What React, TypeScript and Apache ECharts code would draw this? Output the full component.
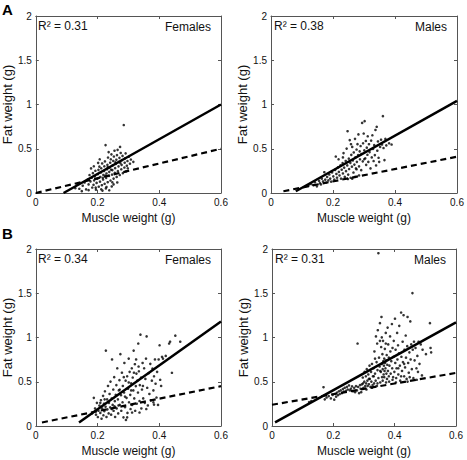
import React, { useEffect, useRef } from "react";
import * as echarts from "echarts";

// ---------- DATA ----------
const xTicks = [0, 0.2, 0.4, 0.6];
const yTicks = [0, 0.5, 1, 1.5, 2];
const panelLetters = ["A", "B"];
const panelTitles = ["Females", "Males", "Females", "Males"];
const r2Labels = ["R² = 0.31", "R² = 0.38", "R² = 0.34", "R² = 0.31"];
const xName = "Muscle weight (g)";
const yName = "Fat weight (g)";

// regression line end points [x, y]
const solidA_F = [[0.09, 0.0], [0.6, 1.0]];
const dashA_F = [[0.0, 0.0], [0.6, 0.5]];
const solidA_M = [[0.08, 0.02], [0.6, 1.04]];
const dashA_M = [[0.04, 0.02], [0.6, 0.41]];
const solidB_F = [[0.14, 0.04], [0.6, 1.18]];
const dashB_F = [[0.02, 0.04], [0.6, 0.45]];
const solidB_M = [[0.01, 0.04], [0.6, 1.17]];
const dashB_M = [[0.0, 0.24], [0.6, 0.6]];

const pointsA_F = [
  [0.128,0.055],[0.141,0.048],[0.152,0.082],[0.158,0.118],[0.163,0.041],[0.168,0.152],[0.171,0.097],[0.174,0.203],
  [0.177,0.131],[0.181,0.172],[0.183,0.062],[0.185,0.224],[0.187,0.093],[0.189,0.143],[0.191,0.188],[0.193,0.251],
  [0.195,0.038],[0.197,0.114],[0.199,0.161],[0.201,0.213],[0.203,0.262],[0.204,0.071],[0.206,0.298],[0.208,0.128],
  [0.209,0.181],[0.211,0.232],[0.212,0.279],[0.214,0.088],[0.215,0.334],[0.216,0.027],[0.218,0.152],[0.219,0.204],
  [0.221,0.248],[0.222,0.302],[0.223,0.104],[0.224,0.357],[0.226,0.541],[0.227,0.052],[0.228,0.171],[0.229,0.221],
  [0.231,0.268],[0.232,0.318],[0.233,0.122],[0.234,0.401],[0.236,0.462],[0.237,0.193],[0.238,0.239],[0.239,0.287],
  [0.241,0.342],[0.242,0.141],[0.243,0.381],[0.245,0.437],[0.246,0.074],[0.247,0.208],[0.248,0.259],[0.249,0.311],
  [0.251,0.362],[0.252,0.163],[0.253,0.412],[0.255,0.478],[0.256,0.228],[0.257,0.281],[0.259,0.329],[0.261,0.376],
  [0.262,0.182],[0.263,0.428],[0.264,0.119],[0.266,0.247],[0.268,0.301],[0.269,0.352],[0.271,0.397],[0.272,0.203],
  [0.273,0.521],[0.275,0.452],[0.277,0.268],[0.278,0.318],[0.279,0.371],[0.281,0.419],[0.282,0.224],[0.285,0.768],
  [0.287,0.288],[0.288,0.342],[0.289,0.391],[0.291,0.448],[0.292,0.243],[0.295,0.308],[0.297,0.361],[0.298,0.279],
  [0.301,0.409],[0.305,0.331],[0.308,0.378],[0.316,0.352],[0.149,0.021],[0.188,0.302],[0.207,0.381],[0.229,0.068],
  [0.252,0.098],[0.179,0.278],[0.202,0.341],[0.135,0.101],[0.217,0.172],[0.244,0.263],[0.258,0.347],[0.233,0.291],
  [0.265,0.488],[0.226,0.196],[0.274,0.338],[0.171,0.032],[0.194,0.061],[0.212,0.042],[0.238,0.031],[0.248,0.121]
];

const pointsA_M = [
  [0.121,0.082],[0.128,0.103],[0.135,0.091],[0.142,0.121],[0.148,0.075],[0.155,0.138],[0.158,0.112],[0.161,0.097],
  [0.164,0.162],[0.168,0.131],[0.172,0.235],[0.175,0.151],[0.178,0.118],[0.181,0.181],[0.185,0.142],[0.188,0.209],
  [0.191,0.163],[0.194,0.128],[0.197,0.232],[0.201,0.188],[0.204,0.152],[0.207,0.262],[0.209,0.412],[0.211,0.215],
  [0.213,0.173],[0.216,0.289],[0.218,0.381],[0.219,0.238],[0.221,0.198],[0.224,0.312],[0.226,0.162],[0.228,0.263],
  [0.231,0.338],[0.232,0.221],[0.234,0.451],[0.236,0.287],[0.238,0.182],[0.241,0.362],[0.242,0.247],[0.244,0.502],
  [0.246,0.312],[0.247,0.698],[0.249,0.208],[0.251,0.388],[0.252,0.271],[0.254,0.598],[0.256,0.341],[0.257,0.172],
  [0.259,0.431],[0.261,0.298],[0.262,0.521],[0.264,0.368],[0.266,0.231],[0.267,0.458],[0.269,0.321],[0.271,0.612],
  [0.272,0.402],[0.274,0.278],[0.276,0.491],[0.277,0.352],[0.279,0.552],[0.281,0.428],[0.282,0.662],[0.284,0.301],
  [0.286,0.471],[0.287,0.381],[0.289,0.531],[0.291,0.258],[0.292,0.441],[0.294,0.792],[0.296,0.358],[0.297,0.562],
  [0.299,0.672],[0.301,0.482],[0.302,0.812],[0.304,0.392],[0.306,0.588],[0.307,0.318],[0.309,0.512],[0.311,0.432],
  [0.312,0.641],[0.314,0.351],[0.316,0.551],[0.318,0.462],[0.321,0.278],[0.323,0.592],[0.325,0.402],[0.327,0.652],
  [0.329,0.498],[0.331,0.361],[0.333,0.542],[0.335,0.428],[0.337,0.712],[0.339,0.311],[0.341,0.748],[0.343,0.478],
  [0.345,0.582],[0.347,0.398],[0.349,0.352],[0.352,0.521],[0.355,0.602],[0.358,0.548],[0.361,0.868],[0.363,0.508],
  [0.366,0.372],[0.369,0.611],[0.372,0.538],[0.381,0.562],[0.389,0.548],[0.232,0.402],[0.258,0.551],[0.276,0.268],
  [0.301,0.382],[0.262,0.162],[0.271,0.181],[0.248,0.158],[0.284,0.198]
];

const pointsB_F = [
  [0.182,0.142],[0.188,0.318],[0.192,0.198],[0.195,0.128],[0.198,0.262],[0.201,0.101],[0.203,0.172],[0.206,0.231],
  [0.209,0.148],[0.211,0.291],[0.213,0.082],[0.215,0.198],[0.218,0.341],[0.219,0.121],[0.221,0.252],[0.222,0.168],
  [0.224,0.392],[0.226,0.218],[0.227,0.852],[0.229,0.102],[0.231,0.301],[0.232,0.188],[0.234,0.452],[0.236,0.142],
  [0.237,0.262],[0.239,0.362],[0.241,0.211],[0.242,0.502],[0.244,0.128],[0.246,0.311],[0.247,0.752],[0.249,0.238],
  [0.251,0.412],[0.252,0.172],[0.254,0.552],[0.256,0.281],[0.257,0.102],[0.259,0.352],[0.261,0.462],[0.262,0.198],
  [0.264,0.652],[0.266,0.301],[0.267,0.142],[0.269,0.402],[0.271,0.518],[0.272,0.238],[0.274,0.812],[0.276,0.348],
  [0.277,0.172],[0.279,0.602],[0.281,0.268],[0.282,0.452],[0.284,0.098],[0.286,0.378],[0.287,0.712],[0.289,0.212],
  [0.291,0.512],[0.292,0.068],[0.294,0.318],[0.296,0.562],[0.297,0.148],[0.299,0.422],[0.301,0.762],[0.302,0.268],
  [0.304,0.612],[0.306,0.352],[0.307,0.192],[0.309,0.482],[0.311,0.652],[0.312,0.238],[0.314,0.548],[0.316,0.402],
  [0.317,0.852],[0.319,0.312],[0.321,0.698],[0.322,0.172],[0.324,0.451],[0.326,0.592],[0.327,0.252],[0.329,0.512],
  [0.331,0.378],[0.332,0.932],[0.334,0.618],[0.336,0.282],[0.337,0.462],[0.339,1.032],[0.341,0.548],[0.342,0.198],
  [0.344,0.412],[0.346,0.712],[0.348,0.312],[0.351,0.652],[0.353,0.262],[0.355,0.532],[0.357,0.762],[0.359,1.012],
  [0.361,0.432],[0.363,0.232],[0.366,0.598],[0.368,0.362],[0.371,0.702],[0.373,0.291],[0.376,0.512],[0.378,0.648],
  [0.381,0.402],[0.383,0.562],[0.386,0.752],[0.388,0.478],[0.391,0.322],[0.393,0.612],[0.396,0.238],[0.398,0.752],
  [0.401,0.912],[0.403,0.522],[0.406,0.452],[0.409,0.782],[0.412,0.762],[0.421,0.792],[0.432,0.932],[0.435,0.952],
  [0.441,0.601],[0.452,1.021],[0.468,0.952],[0.285,0.552],[0.301,0.492],[0.318,0.602],[0.325,0.752],[0.333,0.672],
  [0.347,0.452],[0.309,0.402],[0.289,0.332],[0.272,0.412],[0.255,0.222],[0.312,0.152],[0.336,0.152],[0.358,0.192],
  [0.381,0.268],[0.296,0.098],[0.268,0.232],[0.246,0.192],[0.223,0.301],[0.209,0.262],[0.383,0.242]
];

const pointsB_M = [
  [0.121,0.271],[0.128,0.282],[0.168,0.438],[0.172,0.301],[0.178,0.322],[0.185,0.338],[0.192,0.312],[0.198,0.352],
  [0.203,0.298],[0.206,0.362],[0.209,0.331],[0.212,0.378],[0.215,0.348],[0.218,0.392],[0.221,0.361],[0.224,0.402],
  [0.228,0.372],[0.231,0.418],[0.234,0.388],[0.237,0.432],[0.241,0.398],[0.244,0.441],[0.247,0.412],[0.251,0.458],
  [0.254,0.402],[0.257,0.421],[0.261,0.448],[0.264,0.392],[0.268,0.432],[0.271,0.382],[0.274,0.451],[0.277,0.402],
  [0.279,0.932],[0.281,0.441],[0.284,0.371],[0.287,0.462],[0.289,0.421],[0.291,0.382],[0.293,0.471],[0.296,0.548],
  [0.298,0.432],[0.301,0.502],[0.302,0.612],[0.304,0.451],[0.306,0.562],[0.307,0.482],[0.309,0.642],[0.311,0.512],
  [0.312,0.452],[0.314,0.582],[0.316,0.472],[0.318,0.682],[0.319,0.532],[0.321,0.442],[0.323,0.612],[0.324,0.502],
  [0.326,0.701],[0.328,0.462],[0.329,0.562],[0.331,0.652],[0.333,0.482],[0.334,0.842],[0.336,0.592],[0.338,0.512],
  [0.339,1.012],[0.341,0.722],[0.342,0.452],[0.344,0.632],[0.345,1.082],[0.347,1.952],[0.347,0.542],[0.349,0.772],
  [0.351,0.672],[0.352,1.162],[0.353,0.492],[0.355,0.612],[0.356,0.892],[0.357,1.232],[0.358,0.702],[0.359,0.552],
  [0.360,0.812],[0.361,0.642],[0.362,0.962],[0.363,0.732],[0.364,0.582],[0.365,0.682],[0.366,0.762],[0.367,0.622],
  [0.368,0.872],[0.369,0.712],[0.370,0.652],[0.371,1.052],[0.372,0.742],[0.373,0.592],[0.374,0.802],[0.375,0.532],
  [0.376,0.692],[0.377,1.112],[0.378,0.622],[0.379,0.922],[0.381,0.772],[0.382,0.502],[0.383,0.682],[0.385,1.012],
  [0.386,0.842],[0.387,0.592],[0.389,0.732],[0.391,1.152],[0.392,0.652],[0.393,0.882],[0.395,0.552],[0.396,0.782],
  [0.397,0.962],[0.399,0.612],[0.401,1.212],[0.402,0.712],[0.403,0.862],[0.405,0.542],[0.406,0.652],[0.408,1.052],
  [0.409,0.752],[0.411,0.912],[0.412,0.582],[0.414,0.822],[0.415,1.132],[0.417,0.682],[0.418,0.512],[0.421,1.282],
  [0.422,0.782],[0.424,0.622],[0.426,0.952],[0.427,0.722],[0.429,1.252],[0.431,0.562],[0.432,0.862],[0.434,0.662],
  [0.436,1.022],[0.437,0.772],[0.439,0.532],[0.441,0.902],[0.442,1.232],[0.444,0.712],[0.446,0.602],[0.448,0.832],
  [0.449,0.552],[0.451,1.182],[0.452,0.752],[0.454,0.922],[0.456,0.642],[0.458,1.502],[0.459,0.862],[0.461,0.542],
  [0.463,0.952],[0.465,0.742],[0.468,0.882],[0.471,0.652],[0.472,0.522],[0.474,0.792],[0.476,0.612],[0.478,0.952],
  [0.481,0.702],[0.485,0.922],[0.489,0.572],[0.491,0.862],[0.502,0.812],[0.515,1.162],[0.517,0.882],[0.519,0.832],
  [0.332,0.562],[0.344,0.482],[0.353,0.622],[0.361,0.512],[0.366,0.552],[0.372,0.492],[0.381,0.562],[0.393,0.522],
  [0.404,0.492],[0.412,0.652],[0.421,0.562],[0.431,0.702],[0.442,0.502],[0.297,0.482],[0.308,0.412],[0.316,0.532],
  [0.326,0.432],[0.371,0.932],[0.358,1.002],[0.352,0.962],[0.343,0.932],[0.336,0.762]
];

const panelPoints = [pointsA_F, pointsA_M, pointsB_F, pointsB_M];
const panelSolid = [solidA_F, solidA_M, solidB_F, solidB_M];
const panelDash = [dashA_F, dashA_M, dashB_F, dashB_M];

// ---------- LAYOUT ----------
const FONT = "'Liberation Sans', Arial, sans-serif";
const AXIS_COLOR = "#555";
const TEXT_COLOR = "#111";
const grids = [
  { left: 35, top: 16, width: 186, height: 177 },
  { left: 271, top: 16, width: 186, height: 177 },
  { left: 35, top: 249, width: 186, height: 177 },
  { left: 272, top: 249, width: 184, height: 177 },
];

export default function App() {
  const ref = useRef<HTMLDivElement>(null);
  useEffect(() => {
    if (!ref.current) return;
    const chart = echarts.init(ref.current, undefined, { renderer: "svg" });
    const xMin = xTicks[0], xMax = xTicks[xTicks.length - 1];
    const yMin = yTicks[0], yMax = yTicks[yTicks.length - 1];
    const xInt = xTicks[1] - xTicks[0];
    const yInt = yTicks[1] - yTicks[0];

    const xAxes: any[] = [];
    const yAxes: any[] = [];
    const series: any[] = [];
    const graphic: any[] = [];

    grids.forEach((g, i) => {
      const base = {
        gridIndex: i,
        type: "value",
        min: xMin,
        max: xMax,
        interval: xInt,
        splitLine: { show: false },
        axisLine: { show: true, onZero: false, lineStyle: { color: AXIS_COLOR, width: 1 } },
        axisTick: { show: true, inside: true, length: 3, lineStyle: { color: AXIS_COLOR } },
      };
      xAxes.push({
        ...base,
        position: "bottom",
        name: xName,
        nameLocation: "middle",
        nameGap: 19,
        nameTextStyle: { fontFamily: FONT, fontSize: 12, color: TEXT_COLOR },
        axisLabel: {
          fontFamily: FONT, fontSize: 10, color: TEXT_COLOR, margin: 4,
          formatter: (v: number) => String(Math.round(v * 10) / 10),
        },
      });
      xAxes.push({ ...base, position: "top", axisLabel: { show: false } });

      const ybase = {
        gridIndex: i,
        type: "value",
        min: yMin,
        max: yMax,
        interval: yInt,
        splitLine: { show: false },
        axisLine: { show: true, onZero: false, lineStyle: { color: AXIS_COLOR, width: 1 } },
        axisTick: { show: true, inside: true, length: 3, lineStyle: { color: AXIS_COLOR } },
      };
      yAxes.push({
        ...ybase,
        position: "left",
        name: yName,
        nameLocation: "middle",
        nameGap: 20,
        nameTextStyle: { fontFamily: FONT, fontSize: 13, color: TEXT_COLOR },
        axisLabel: {
          fontFamily: FONT, fontSize: 10, color: TEXT_COLOR, margin: 4,
          formatter: (v: number) => String(v),
        },
      });
      yAxes.push({ ...ybase, position: "right", axisLabel: { show: false } });

      series.push({
        type: "scatter",
        xAxisIndex: i * 2,
        yAxisIndex: i * 2,
        data: panelPoints[i],
        symbol: "circle",
        symbolSize: 2.6,
        itemStyle: { color: "#000" },
        silent: true,
      });
      series.push({
        type: "line",
        xAxisIndex: i * 2,
        yAxisIndex: i * 2,
        data: panelSolid[i],
        showSymbol: false,
        symbol: "none",
        lineStyle: { color: "#000", width: 2.5 },
        silent: true,
      });
      series.push({
        type: "line",
        xAxisIndex: i * 2,
        yAxisIndex: i * 2,
        data: panelDash[i],
        showSymbol: false,
        symbol: "none",
        lineStyle: { color: "#000", width: 2.2, type: [6, 4] },
        silent: true,
      });

      graphic.push({
        type: "text",
        left: g.left + 3,
        top: g.top + 4,
        style: { text: r2Labels[i], font: `12px ${FONT}`, fill: TEXT_COLOR },
      });
      graphic.push({
        type: "text",
        right: 467 - (g.left + g.width) + 10,
        top: g.top + 5,
        style: { text: panelTitles[i], font: `12px ${FONT}`, fill: TEXT_COLOR },
      });
    });

    graphic.push({
      type: "text", left: 2, top: 2,
      style: { text: panelLetters[0], font: `bold 15px ${FONT}`, fill: "#000" },
    });
    graphic.push({
      type: "text", left: 2, top: 226,
      style: { text: panelLetters[1], font: `bold 15px ${FONT}`, fill: "#000" },
    });

    chart.setOption({
      animation: false,
      backgroundColor: "#fff",
      grid: grids.map((g) => ({ ...g, containLabel: false })),
      xAxis: xAxes,
      yAxis: yAxes,
      series,
      graphic,
    });
    return () => chart.dispose();
  }, []);
  return <div ref={ref} style={{ width: 467, height: 460, position: "absolute", left: 0, top: 0 }} />;
}
